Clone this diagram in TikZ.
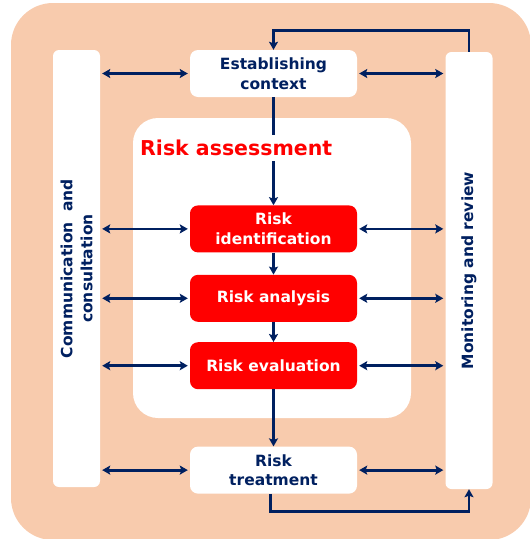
\documentclass[tikz,border=0pt]{standalone}
\usepackage{fontspec}
\setmainfont{DejaVu Sans}
\usetikzlibrary{positioning, arrows.meta}
\definecolor{navy}{HTML}{002060}
\definecolor{peach}{HTML}{F8CBAD}
\definecolor{riskred}{HTML}{FF0000}
\tikzset{
	stage/.style={
		rectangle,
		minimum width=167pt,
		minimum height=47pt,
		inner sep=0pt,
		rounded corners=8pt,
		align=center,
		font=\bfseries\fontsize{15.5}{19.5}\selectfont,
	},
	plainstage/.style={
		stage,
		fill=white,
		text=navy,
	},
	riskstage/.style={
		stage,
		fill=riskred,
		text=white,
	},
	bar/.style={
		rectangle,
		fill=white,
		rounded corners=6pt,
		minimum width=47pt,
		minimum height=437pt,
	},
	bartext/.style={
		rotate=90,
		text=navy,
		align=center,
		font=\bfseries\fontsize{15.5}{20}\selectfont,
	},
	link/.style={
		draw=navy,
		line width=2.8pt,
	},
}

\begin{document}
\begin{tikzpicture}[x=1pt, y=-1pt, >={Stealth[length=8pt, width=9pt, inset=1.5pt]}]
		
		\useasboundingbox (0,0) rectangle (530,539);
		\fill [peach, rounded corners=42pt] (11,3) rectangle (531,540);
		\fill [white, rounded corners=25pt] (133,118) rectangle (411,418);
		
		\node [bar] (comm) at (76.5,268.5) {};
		\node [bar] (mon) at (469,270.5) {};
		\node [bartext] (commtext) at (comm) {Communication \ and\\consultation};
		\node [bartext] (montext) at (mon) {Monitoring and review};
		
		\node [plainstage] (ctx) at (273.5,73.5) {Establishing\\context};
		\node [riskstage, below=108pt of ctx] (ident) {Risk\\identification};
		\node [riskstage, below=22pt of ident] (anal) {Risk analysis};
		\node [riskstage, below=20pt of anal] (eval) {Risk evaluation};
		\node [plainstage, below=57pt of eval] (treat) {Risk\\treatment};
		
		\draw [link, ->] (ctx) to (ident);
		\node [anchor=west, fill=white, text=riskred, inner xsep=1pt, inner ysep=5pt,
			font=\bfseries\fontsize{20.5}{24}\selectfont] (title) at (139,148) {Risk assessment};
		\draw [link, ->] (ident) to (anal);
		\draw [link, ->] (anal) to (eval);
		\draw [link, ->] (eval) to (treat);
		
		\foreach \s in {ctx, ident, anal, eval, treat} {
			\draw [link, <->, shorten <=2pt, shorten >=2pt] (\s.west -| comm.east) to (\s.west);
			\draw [link, <->, shorten <=2pt, shorten >=2pt] (\s.east) to (\s.east -| mon.west);
		}
		
		\draw [link, ->] (mon.north) |- ([yshift=19pt]ctx.north) to (ctx.north);
		\draw [link, ->] ([xshift=-3pt]treat.south) |- ([yshift=-18pt]treat.south -| mon.south) to (mon.south);
	\end{tikzpicture}
\end{document}
